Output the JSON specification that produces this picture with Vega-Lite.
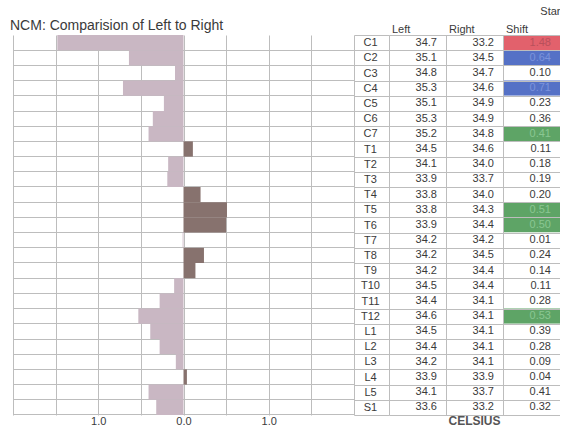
{
  "$schema": "https://vega.github.io/schema/vega-lite/v6.json",
  "background": "white",
  "padding": {"left": 10, "top": 5, "right": 0, "bottom": 0},
  "config": {
    "font": "Liberation Sans",
    "view": {"stroke": null},
    "axis": {"gridColor": "#bdbdbd", "gridWidth": 1, "gridOpacity": 1, "labelColor": "#3a3a3a", "labelFontSize": 11}
  },
  "bounds": "flush",
  "spacing": 35,
  "data": {
    "values": [
      {"region": "C1", "Left": 34.7, "Right": 33.2, "Shift": 1.48, "diff": -1.48, "flag": "Severe"},
      {"region": "C2", "Left": 35.1, "Right": 34.5, "Shift": 0.64, "diff": -0.64, "flag": "Moderate"},
      {"region": "C3", "Left": 34.8, "Right": 34.7, "Shift": 0.10, "diff": -0.10, "flag": "Normal"},
      {"region": "C4", "Left": 35.3, "Right": 34.6, "Shift": 0.71, "diff": -0.71, "flag": "Moderate"},
      {"region": "C5", "Left": 35.1, "Right": 34.9, "Shift": 0.23, "diff": -0.23, "flag": "Normal"},
      {"region": "C6", "Left": 35.3, "Right": 34.9, "Shift": 0.36, "diff": -0.36, "flag": "Normal"},
      {"region": "C7", "Left": 35.2, "Right": 34.8, "Shift": 0.41, "diff": -0.41, "flag": "Mild"},
      {"region": "T1", "Left": 34.5, "Right": 34.6, "Shift": 0.11, "diff": 0.11, "flag": "Normal"},
      {"region": "T2", "Left": 34.1, "Right": 34.0, "Shift": 0.18, "diff": -0.18, "flag": "Normal"},
      {"region": "T3", "Left": 33.9, "Right": 33.7, "Shift": 0.19, "diff": -0.19, "flag": "Normal"},
      {"region": "T4", "Left": 33.8, "Right": 34.0, "Shift": 0.20, "diff": 0.20, "flag": "Normal"},
      {"region": "T5", "Left": 33.8, "Right": 34.3, "Shift": 0.51, "diff": 0.51, "flag": "Mild"},
      {"region": "T6", "Left": 33.9, "Right": 34.4, "Shift": 0.50, "diff": 0.50, "flag": "Mild"},
      {"region": "T7", "Left": 34.2, "Right": 34.2, "Shift": 0.01, "diff": -0.01, "flag": "Normal"},
      {"region": "T8", "Left": 34.2, "Right": 34.5, "Shift": 0.24, "diff": 0.24, "flag": "Normal"},
      {"region": "T9", "Left": 34.2, "Right": 34.4, "Shift": 0.14, "diff": 0.14, "flag": "Normal"},
      {"region": "T10", "Left": 34.5, "Right": 34.4, "Shift": 0.11, "diff": -0.11, "flag": "Normal"},
      {"region": "T11", "Left": 34.4, "Right": 34.1, "Shift": 0.28, "diff": -0.28, "flag": "Normal"},
      {"region": "T12", "Left": 34.6, "Right": 34.1, "Shift": 0.53, "diff": -0.53, "flag": "Mild"},
      {"region": "L1", "Left": 34.5, "Right": 34.1, "Shift": 0.39, "diff": -0.39, "flag": "Normal"},
      {"region": "L2", "Left": 34.4, "Right": 34.1, "Shift": 0.28, "diff": -0.28, "flag": "Normal"},
      {"region": "L3", "Left": 34.2, "Right": 34.1, "Shift": 0.09, "diff": -0.09, "flag": "Normal"},
      {"region": "L4", "Left": 33.9, "Right": 33.9, "Shift": 0.04, "diff": 0.04, "flag": "Normal"},
      {"region": "L5", "Left": 34.1, "Right": 33.7, "Shift": 0.41, "diff": -0.41, "flag": "Normal"},
      {"region": "S1", "Left": 33.6, "Right": 33.2, "Shift": 0.32, "diff": -0.32, "flag": "Normal"}
    ]
  },
  "hconcat": [
    {
      "width": 341,
      "height": 380,
      "title": {"text": "NCM: Comparision of Left to Right", "anchor": "start", "fontSize": 14, "fontWeight": "normal", "color": "#3a3a3a", "dx": -3, "offset": 2},
      "mark": {"type": "bar"},
      "encoding": {
        "y": {
          "field": "region", "type": "nominal", "sort": null,
          "scale": {"paddingInner": 0, "paddingOuter": 0},
          "axis": {"title": null, "labels": false, "ticks": false, "domain": false, "grid": true, "bandPosition": 1}
        },
        "x": {
          "field": "diff", "type": "quantitative",
          "scale": {"domain": [-2, 2], "nice": false},
          "axis": {
            "title": null, "values": [-2, -1.5, -1, -0.5, 0, 0.5, 1, 1.5, 2],
            "grid": true, "ticks": false, "domain": false, "labelPadding": 0, "labelFlush": false, "labelOverlap": false,
            "labelExpr": "datum.value == -1 || datum.value == 1 ? '1.0' : (datum.value == 0 ? '0.0' : '')"
          }
        },
        "color": {"condition": {"test": "datum.diff > 0", "value": "#87726e"}, "value": "#c9b7c3"}
      }
    },
    {
      "width": 171,
      "height": 380,
      "title": {"text": "CELSIUS", "orient": "bottom", "anchor": "middle", "fontSize": 12, "fontWeight": "bold", "color": "#555555", "offset": 0},
      "transform": [{"fold": ["Left", "Right", "Shift"], "as": ["key", "value"]}],
      "encoding": {
        "y": {
          "field": "region", "type": "nominal", "sort": null,
          "scale": {"paddingInner": 0, "paddingOuter": 0},
          "axis": {"title": null, "orient": "left", "tickBand": "extent", "tickSize": 35, "tickColor": "#bdbdbd", "domain": false, "grid": true, "labelAlign": "center", "labelPadding": -16, "minExtent": 35, "maxExtent": 35}
        },
        "x": {
          "field": "key", "type": "nominal", "sort": ["Left", "Right", "Shift"],
          "scale": {"paddingInner": 0, "paddingOuter": 0},
          "axis": {"title": "Star", "titleAnchor": "end", "titleFontSize": 11, "titleFontWeight": "normal", "titleColor": "#3a3a3a", "titlePadding": 7, "orient": "top", "tickBand": "extent", "ticks": false, "domain": false, "grid": true, "labelAngle": 0, "labelAlign": "left", "labelOffset": -26, "labelPadding": 1}
        }
      },
      "layer": [
        {
          "transform": [{"filter": "datum.key == 'Shift'"}],
          "mark": {"type": "rect"},
          "encoding": {
            "fill": {"field": "flag", "type": "nominal", "scale": {"domain": ["Severe", "Moderate", "Mild", "Normal"], "range": ["#e2616c", "#5571c6", "#5ea466", "#ffffff"]}, "legend": null}
          }
        },
        {
          "transform": [{"filter": "datum.key != 'Shift'"}],
          "mark": {"type": "text", "align": "right", "dx": -9, "fontSize": 11, "color": "#3a3a3a"},
          "encoding": {
            "x": {"field": "key", "type": "nominal", "sort": ["Left", "Right", "Shift"], "bandPosition": 1},
            "text": {"field": "value", "type": "quantitative", "format": ".1f"}
          }
        },
        {
          "transform": [{"filter": "datum.key == 'Shift'"}],
          "mark": {"type": "text", "align": "right", "dx": -9, "fontSize": 11},
          "encoding": {
            "x": {"field": "key", "type": "nominal", "sort": ["Left", "Right", "Shift"], "bandPosition": 1},
            "text": {"field": "value", "type": "quantitative", "format": ".2f"},
            "color": {
              "condition": [
                {"test": "datum.flag == 'Severe'", "value": "#b8505b"},
                {"test": "datum.flag == 'Moderate'", "value": "#7b93dc"},
                {"test": "datum.flag == 'Mild'", "value": "#8ac792"}
              ],
              "value": "#3a3a3a"
            }
          }
        }
      ]
    }
  ]
}
